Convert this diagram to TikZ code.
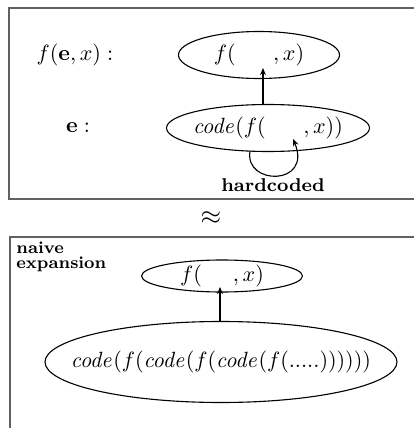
\documentclass[tikz,border=0pt]{standalone}
\usetikzlibrary{arrows.meta,shapes.geometric}
\begin{document}
\begin{tikzpicture}[x=0.453pt,y=-0.453pt,
  frame/.style={draw=black!62,line width=0.9pt},
  oval/.style={draw,ellipse,line width=0.5pt,inner sep=0pt},
  link/.style={line width=0.5pt,-{Stealth[length=3.2pt,width=2.6pt]}},
  lbl/.style={inner sep=0pt},
  boldsmall/.style={inner sep=0pt,font=\fontsize{7.7}{6.8}\selectfont\bfseries}]
\useasboundingbox (0,0) rectangle (414,428);
\clip (0,0) rectangle (414,428);
% frames
\draw[frame] (430,8) -- (9,8) -- (9,199) -- (430,199);
\draw[frame] (430,237) -- (10,237) -- (10,440);
% top part
\node[lbl] (lf) at (75,55) {$f(\mathbf{e},x):$};
\node[lbl] (le) at (78,128) {$\mathbf{e}:$};
\node[oval,minimum width=161*0.453pt,minimum height=47*0.453pt] (A) at (259,55) {\makebox[0pt]{$f(\hspace{17pt},x)$}};
\node[oval,minimum width=203*0.453pt,minimum height=47*0.453pt] (B) at (268,128) {\makebox[0pt]{$\mathit{code}(f(\hspace{17pt},x))$}};
\coordinate (tipA) at (263,68);
\draw[link] (tipA |- B.north) -- (tipA);
\coordinate (loopS) at (250,151);
\coordinate (loopE) at (293,139);
\draw[link] (loopS) .. controls (244,186) and (313,186) .. (loopE);
\node[inner sep=0pt,font=\fontsize{8.4}{10}\selectfont\bfseries] (hc) at (273,185) {hardcoded};
% approx
\node[lbl,font=\large] (ap) at (211,218) {$\approx$};
% bottom part
\node[boldsmall,anchor=north west,align=left] (ne) at (16,241) {naive\\expansion};
\node[oval,minimum width=161*0.453pt,minimum height=32*0.453pt] (C) at (222,276) {\makebox[0pt]{$f(\hspace{14pt},x)$}};
\node[oval,minimum width=352*0.453pt,minimum height=81*0.453pt] (D) at (221,362) {\makebox[0pt]{$\mathit{code}(f(\mathit{code}(f(\mathit{code}(f(.....))))))$}};
\coordinate (tipC) at (220,287);
\draw[link] (tipC |- D.north) -- (tipC);
\end{tikzpicture}
\end{document}
